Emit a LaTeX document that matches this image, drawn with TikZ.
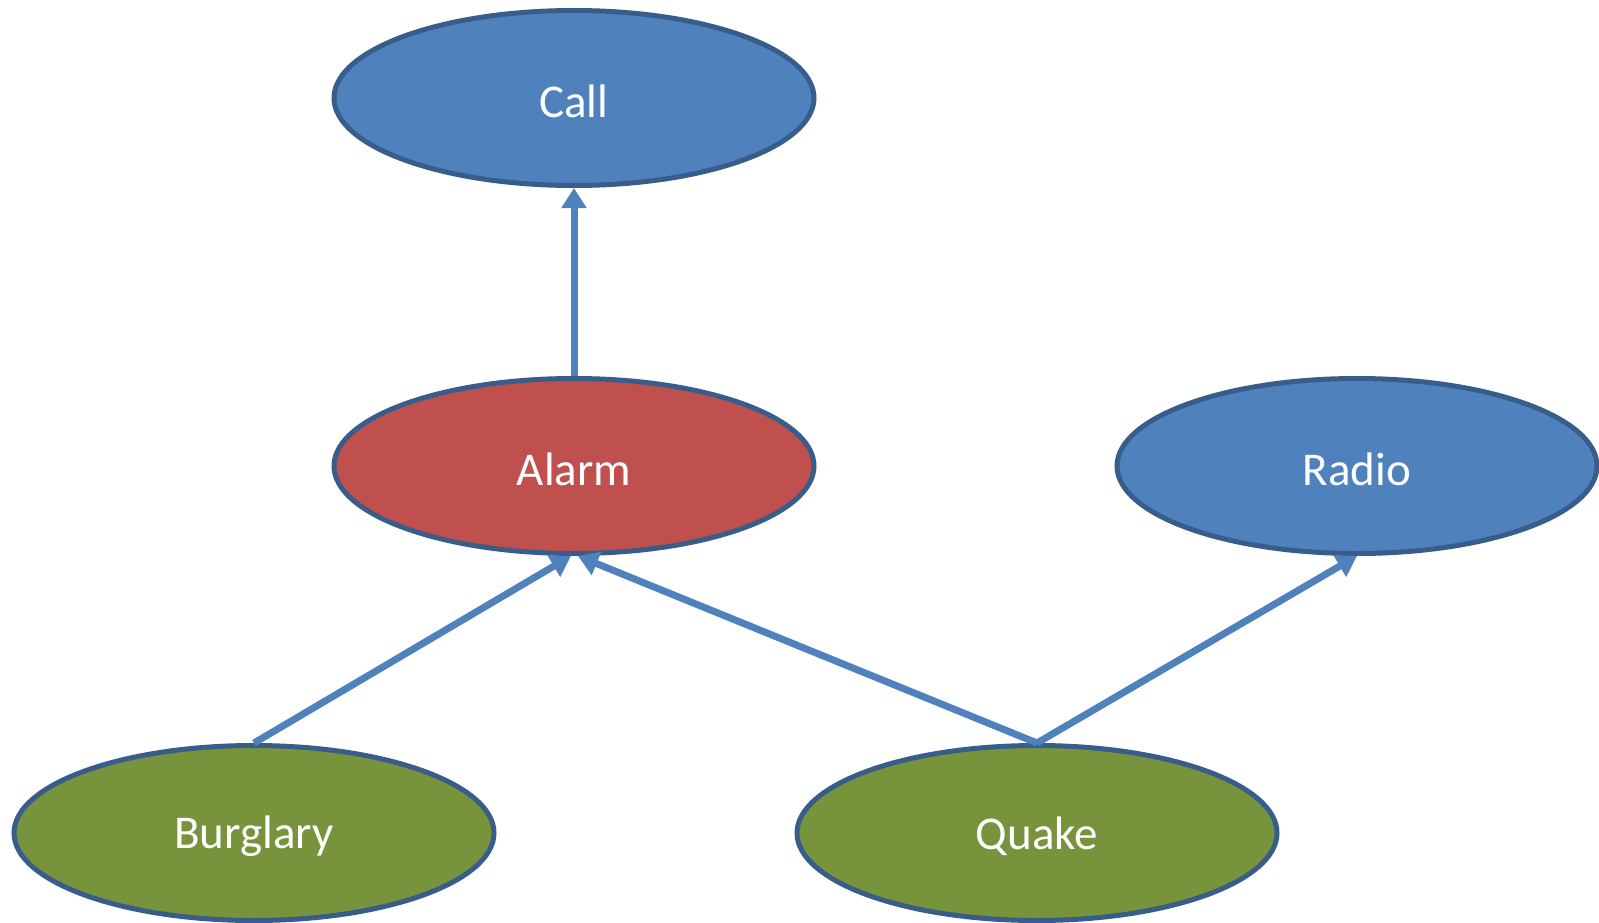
\documentclass[tikz,border=0pt]{standalone}
\usepackage{fontspec}
\setmainfont{Carlito}
\usetikzlibrary{arrows.meta,shapes.geometric}
\definecolor{nodeblue}{HTML}{4F81BD}
\definecolor{nodered}{HTML}{C0504D}
\definecolor{nodegreen}{HTML}{77933C}
\definecolor{rimblue}{HTML}{385D8A}
\newcommand{\lowered}[1]{\raisebox{-3pt}[\height][\depth]{#1}}
\tikzset{
  var/.style={ellipse, draw=rimblue, line width=5pt, minimum width=480pt, minimum height=175pt, inner sep=0pt, text=white, font=\fontsize{47}{50}\selectfont},
  link/.style={-{Triangle[width=24pt,length=20pt]}, draw=nodeblue, line width=7pt}
}
\begin{document}
\begin{tikzpicture}[x=1pt,y=-1pt]
\useasboundingbox (0,0) rectangle (1599,923);

\node(call) at (574, 98) [var, fill=nodeblue] {\lowered{Call}};
\node(alarm) at (574, 466) [var, fill=nodered] {\lowered{Alarm}};
\node(radio) at (1357, 466) [var, fill=nodeblue] {\lowered{Radio}};
\node(burglary) at (254, 833) [var, fill=nodegreen] {\lowered{Burglary}};
\node(quake) at (1037, 833) [var, fill=nodegreen] {\lowered{Quake}};

\draw[link] (alarm.north) to (call.south);
\draw[link] (burglary.north) to ([xshift=-3pt]alarm.south);
\draw[link] (quake.north) to ([xshift=4pt]alarm.south);
\draw[link] (quake.north) to (radio.south);

\end{tikzpicture}
\end{document}
